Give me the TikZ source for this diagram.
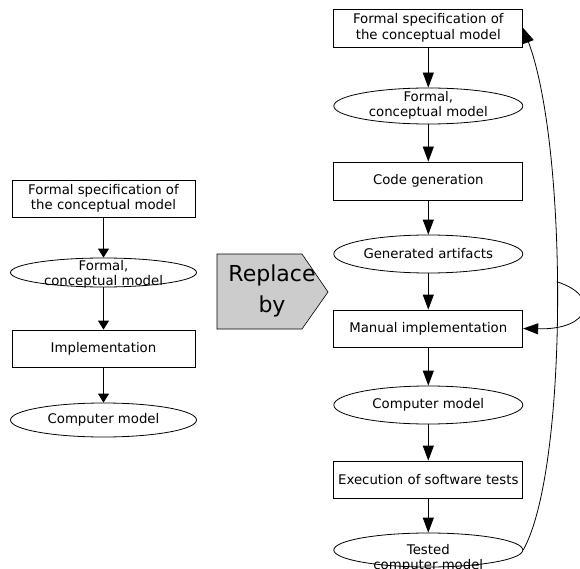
\documentclass[tikz,border=0pt]{standalone}
\usepackage{fontspec}
\setmainfont{DejaVu Sans}
\usetikzlibrary{arrows.meta,shapes.geometric,calc}
\begin{document}
\begin{tikzpicture}[x=1pt,y=-1pt,
  every node/.style={font=\fontsize{13.3}{15.5}\selectfont},
  lbox/.style={draw, line width=0.8pt, minimum width=183pt, minimum height=37pt, inner sep=0pt, align=center},
  rbox/.style={draw, line width=0.8pt, minimum width=189pt, minimum height=38pt, inner sep=0pt, align=center},
  lell/.style={draw, ellipse, line width=0.8pt, minimum width=186pt, inner sep=0pt},
  rell/.style={draw, ellipse, line width=0.8pt, minimum width=189pt, minimum height=37pt, inner sep=0pt},
  txt/.style={inner sep=0pt, align=center},
  larr/.style={-{Triangle[length=9pt,width=11pt]}, line width=0.8pt},
  rarr/.style={-{Triangle[length=15pt,width=11pt]}, line width=0.8pt},
]
\useasboundingbox (0,0) rectangle (580,569);

% left column
\node[lbox] (L1) at (103.5,198.5) {Formal specification of\\the conceptual model};
\node[lell, minimum height=29pt] (L2) at (103.5,272.5) {};
\node[txt] (L2t) at (103.5,274.5) {Formal,\\conceptual model};
\node[lbox] (L3) at (103.5,348.5) {Implementation};
\node[lell, minimum height=34pt] (L4) at (103.5,420) {Computer model};

\draw[larr] (L1) -- (L2);
\draw[larr] (L2) -- (L3);
\draw[larr] (L3) -- (L4);

% replace-by arrow shape
\draw[fill=gray!40, line width=0.6pt] (217,254) -- (302,254) -- (328,292) -- (302,329) -- (217,329) -- cycle;
\node[font=\fontsize{22}{31}\selectfont, align=center, inner sep=0pt] (rep) at (272,291) {Replace\\by};

% right column
\node[rbox] (A) at (428.3,28) {Formal specification of\\the conceptual model};
\node[rell, minimum height=36pt] (B) at (428.3,106) {};
\node[txt] (Bt) at (428.3,105.5) {Formal,\\conceptual model};
\node[rbox] (C) at (428.3,181) {Code generation};
\node[rell, minimum height=38pt] (D) at (428.3,254) {Generated artifacts};
\node[rbox, minimum height=37pt] (E) at (428.3,328.5) {Manual implementation};
\node[rell, minimum height=38pt] (F) at (428.3,405) {Computer model};
\node[rbox, minimum height=37pt] (G) at (428.3,479.5) {Execution of software tests};
\node[rell, minimum height=34pt] (H) at (428.3,550) {};
\node[txt] (Ht) at (428.3,558.5) {Tested\\computer model};

\draw[rarr] (A) -- (B);
\draw[rarr] (B) -- (C);
\draw[rarr] (C) -- (D);
\draw[rarr] (D) -- (E);
\draw[rarr] (E) -- (F);
\draw[rarr] (F) -- (G);
\draw[rarr] (G) -- (H);

% feedback
\draw[rarr] (H.east) .. controls +(45,-80) and +(45,120) .. (A.east) coordinate[pos=0.535] (ls);
\draw[rarr] (ls) .. controls (600,295) and (592,330) .. (E.east);
\end{tikzpicture}
\end{document}
